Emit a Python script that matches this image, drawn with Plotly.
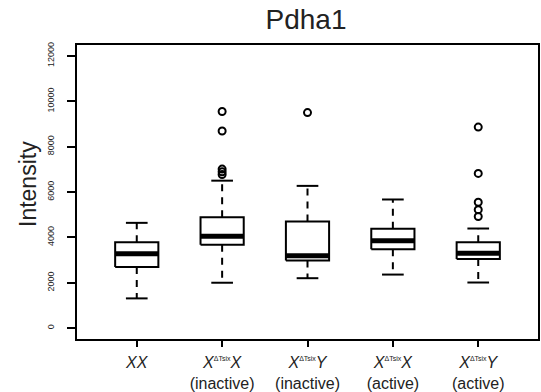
import plotly.graph_objects as go

# ---- data ----
groups = ["XX", "XTX_inactive", "XTY_inactive", "XTX_active", "XTY_active"]
tick_labels = [
    "<i>XX</i>",
    "<i>X</i><sup><span style='font-size:7px'>ΔTsix</span></sup><i>X</i><br>(inactive)",
    "<i>X</i><sup><span style='font-size:7px'>ΔTsix</span></sup><i>Y</i><br>(inactive)",
    "<i>X</i><sup><span style='font-size:7px'>ΔTsix</span></sup><i>X</i><br>(active)",
    "<i>X</i><sup><span style='font-size:7px'>ΔTsix</span></sup><i>Y</i><br>(active)",
]
lower_whisker = [1310, 2000, 2200, 2360, 2010]
q1 = [2690, 3670, 2980, 3480, 3050]
median = [3280, 4050, 3190, 3855, 3295]
q3 = [3790, 4890, 4700, 4385, 3790]
upper_whisker = [4640, 6500, 6270, 5670, 4390]
outliers = [
    [],
    [9550, 8690, 7010, 6890, 6770],
    [9500],
    [],
    [8860, 6820, 5550, 5220, 4920],
]
y_ticks = [0, 2000, 4000, 6000, 8000, 10000, 12000]

positions = list(range(1, len(groups) + 1))
half_box = 0.253
half_cap = 0.127
FONT = "Liberation Sans, Arial, Helvetica, sans-serif"

# build geometry from data
bx, by, mx, my, wx, wy, cx, cy, ox, oy = [], [], [], [], [], [], [], [], [], []
for p, lo, a, m, b, hi, outs in zip(positions, lower_whisker, q1, median, q3, upper_whisker, outliers):
    bx += [p - half_box, p + half_box, p + half_box, p - half_box, p - half_box, None]
    by += [a, a, b, b, a, None]
    mx += [p - half_box, p + half_box, None]
    my += [m, m, None]
    wx += [p, p, None, p, p, None]
    wy += [b, hi, None, a, lo, None]
    cx += [p - half_cap, p + half_cap, None, p - half_cap, p + half_cap, None]
    cy += [hi, hi, None, lo, lo, None]
    ox += [p] * len(outs)
    oy += outs

fig = go.Figure()
fig.add_trace(go.Scatter(x=wx, y=wy, mode="lines", line=dict(color="black", width=2, dash="7px,6px"),
                         hoverinfo="skip", showlegend=False))
fig.add_trace(go.Scatter(x=cx, y=cy, mode="lines", line=dict(color="black", width=2),
                         hoverinfo="skip", showlegend=False))
fig.add_trace(go.Scatter(x=bx, y=by, mode="lines", fill="toself", fillcolor="white",
                         line=dict(color="black", width=2), hoverinfo="skip", showlegend=False))
fig.add_trace(go.Scatter(x=mx, y=my, mode="lines", line=dict(color="black", width=5),
                         hoverinfo="skip", showlegend=False))
fig.add_trace(go.Scatter(x=ox, y=oy, mode="markers",
                         marker=dict(symbol="circle-open", size=7, color="black", line=dict(width=2)),
                         showlegend=False))

fig.update_layout(
    width=541, height=392,
    margin=dict(l=77, r=3, t=45, b=53),
    paper_bgcolor="white", plot_bgcolor="white",
    font=dict(family=FONT, color="black"),
    title=dict(text="Pdha1", font=dict(size=28, family=FONT, color="#222"),
               x=(306 / 541), xanchor="center", y=1 - 19 / 392, yanchor="middle"),
    xaxis=dict(range=[0.3, 5.7], tickvals=positions, ticktext=tick_labels,
               showline=True, mirror=True, linecolor="black", linewidth=2,
               ticks="outside", ticklen=6, tickwidth=1.5, tickcolor="black",
               tickfont=dict(size=16, family=FONT, color="#222"),
               ticklabelstandoff=2, automargin=False,
               showgrid=False, zeroline=False),
    yaxis=dict(range=[-480, 12480], tickvals=y_ticks, ticktext=[str(v) for v in y_ticks],
               tickangle=-90, showline=True, mirror=True, linecolor="black", linewidth=2,
               ticks="outside", ticklen=8, tickwidth=1.5, tickcolor="black",
               tickfont=dict(size=9, family=FONT, color="#222"),
               ticklabelstandoff=9, automargin=False,
               showgrid=False, zeroline=False),
    annotations=[dict(text="Intensity", textangle=-90, xref="paper", yref="paper",
                      x=(28 - 77) / 461, y=(339 - 184) / 294, xanchor="center", yanchor="middle",
                      showarrow=False, font=dict(size=23, family=FONT, color="#222"))],
)

fig.write_html("out.html")
